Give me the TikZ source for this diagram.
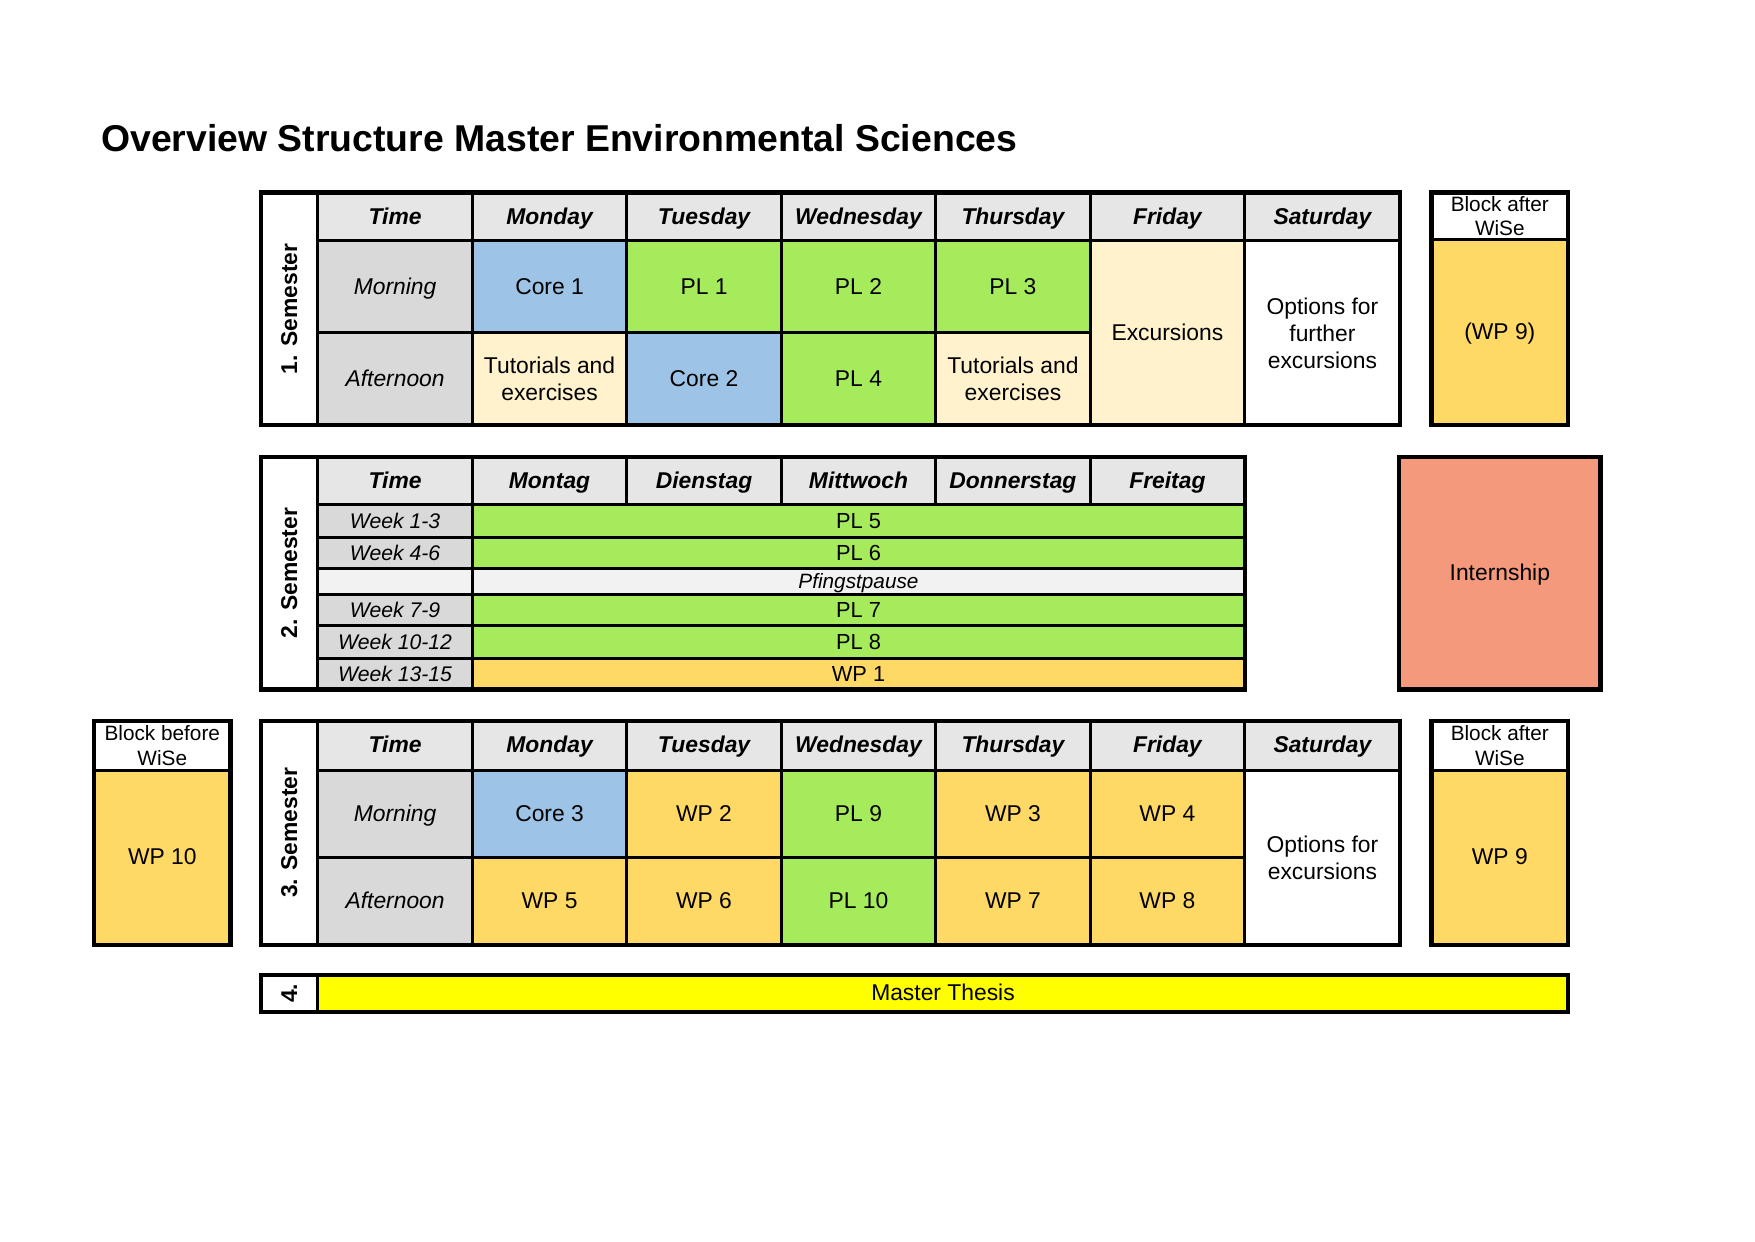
\documentclass[tikz,border=0pt]{standalone}
\usepackage{fontspec}
\setmainfont{Liberation Sans}
\usetikzlibrary{calc}
\definecolor{hdr}{HTML}{E7E6E6}
\definecolor{tcol}{HTML}{D9D9D9}
\definecolor{cblue}{HTML}{9DC3E6}
\definecolor{cgreen}{HTML}{A6EB5B}
\definecolor{cbeige}{HTML}{FFF2CC}
\definecolor{corange}{HTML}{FFD966}
\definecolor{csalmon}{HTML}{F4997B}
\definecolor{cyel}{HTML}{FFFF00}
\definecolor{cpfing}{HTML}{F2F2F2}
\newcommand\cellbox[7]{%
  \node[cellst,#6,minimum width={(#4-#2)*0.18941mm},minimum height={(#5-#3)*0.18941mm}]
    (#1) at ({(#2+#4)/2},{(#3+#5)/2}) {#7};}
\newcommand\outerbox[4]{\draw[outerst] (#1,#2) rectangle (#3,#4);}
\tikzset{
  cellst/.style={draw=black,line width=1.5pt,inner sep=0pt,align=center,
    font=\fontsize{11}{13}\selectfont,text height=0.72em,text depth=0pt},
  ml/.style={text height={},text depth={}},
  outerst/.style={draw=black,line width=2pt},
  hd/.style={fill=hdr,font=\fontsize{11}{13}\selectfont\bfseries\itshape},
  tc/.style={fill=tcol,font=\fontsize{11}{13}\selectfont\itshape},
  tw/.style={fill=tcol,font=\fontsize{10.2}{12}\selectfont\itshape},
  lab/.style={fill=white},
  semlab/.style={rotate=90,font=\fontsize{11}{13}\selectfont\bfseries},
  blu/.style={fill=cblue},
  grn/.style={fill=cgreen},
  bge/.style={fill=cbeige},
  org/.style={fill=corange},
  wht/.style={fill=white},
  sm/.style={font=\fontsize{10.5}{12}\selectfont},
  blk/.style={fill=white,ml,font=\fontsize{10}{11.8}\selectfont},
}
\begin{document}
\begin{tikzpicture}[x=0.18941mm,y=-0.18941mm]
\useasboundingbox (0,0) rectangle (1568,1109);
\node[anchor=west,inner sep=0pt,font=\fontsize{18}{21}\selectfont\bfseries] (title) at (90,123) {Overview Structure Master Environmental Sciences};

% ---------- Semester 1 ----------
\cellbox{s1l}{233}{172}{284}{380}{lab}{}
\node[semlab] (s1t) at (s1l.center) {1. Semester};
\cellbox{s1h0}{284}{172}{422}{215}{hd}{Time}
\cellbox{s1h1}{422}{172}{560}{215}{hd}{Monday}
\cellbox{s1h2}{560}{172}{698}{215}{hd}{Tuesday}
\cellbox{s1h3}{698}{172}{836}{215}{hd}{Wednesday}
\cellbox{s1h4}{836}{172}{974}{215}{hd}{Thursday}
\cellbox{s1h5}{974}{172}{1112}{215}{hd}{Friday}
\cellbox{s1h6}{1112}{172}{1251}{215}{hd}{Saturday}
\cellbox{s1m0}{284}{215}{422}{297}{tc}{Morning}
\cellbox{s1m1}{422}{215}{560}{297}{blu}{Core 1}
\cellbox{s1m2}{560}{215}{698}{297}{grn}{PL 1}
\cellbox{s1m3}{698}{215}{836}{297}{grn}{PL 2}
\cellbox{s1m4}{836}{215}{974}{297}{grn}{PL 3}
\cellbox{s1a0}{284}{297}{422}{380}{tc}{Afternoon}
\cellbox{s1a1}{422}{297}{560}{380}{bge,ml}{Tutorials and\\exercises}
\cellbox{s1a2}{560}{297}{698}{380}{blu}{Core 2}
\cellbox{s1a3}{698}{297}{836}{380}{grn}{PL 4}
\cellbox{s1a4}{836}{297}{974}{380}{bge,ml}{Tutorials and\\exercises}
\cellbox{s1f}{974}{215}{1112}{380}{bge}{Excursions}
\cellbox{s1s}{1112}{215}{1251}{380}{wht,ml}{Options for\\further\\excursions}
\outerbox{233}{172}{1251}{380}
% block after (sem 1)
\cellbox{b1h}{1279}{172}{1401}{214}{blk}{Block after\\WiSe}
\cellbox{b1b}{1279}{214}{1401}{380}{org}{(WP 9)}
\outerbox{1279}{172}{1401}{380}

% ---------- Semester 2 ----------
\cellbox{s2l}{233}{408}{284}{616}{lab}{}
\node[semlab] (s2t) at (s2l.center) {2. Semester};
\cellbox{s2h0}{284}{408}{422}{451}{hd}{Time}
\cellbox{s2h1}{422}{408}{560}{451}{hd}{Montag}
\cellbox{s2h2}{560}{408}{698}{451}{hd}{Dienstag}
\cellbox{s2h3}{698}{408}{836}{451}{hd}{Mittwoch}
\cellbox{s2h4}{836}{408}{974}{451}{hd}{Donnerstag}
\cellbox{s2h5}{974}{408}{1112}{451}{hd}{Freitag}
\cellbox{s2w1}{284}{451}{422}{480}{tw}{Week 1-3}
\cellbox{s2r1}{422}{451}{1112}{480}{grn,sm}{PL 5}
\cellbox{s2w2}{284}{480}{422}{508}{tw}{Week 4-6}
\cellbox{s2r2}{422}{480}{1112}{508}{grn,sm}{PL 6}
\cellbox{s2w3}{284}{508}{422}{531}{fill=cpfing}{}
\cellbox{s2r3}{422}{508}{1112}{531}{fill=cpfing,font=\fontsize{10}{11}\selectfont\itshape}{Pfingstpause}
\cellbox{s2w4}{284}{531}{422}{559}{tw}{Week 7-9}
\cellbox{s2r4}{422}{531}{1112}{559}{grn,sm}{PL 7}
\cellbox{s2w5}{284}{559}{422}{588}{tw}{Week 10-12}
\cellbox{s2r5}{422}{559}{1112}{588}{grn,sm}{PL 8}
\cellbox{s2w6}{284}{588}{422}{616}{tw}{Week 13-15}
\cellbox{s2r6}{422}{588}{1112}{616}{org,sm}{WP 1}
\outerbox{233}{408}{1112}{616}
\cellbox{intern}{1250}{408}{1430}{616}{fill=csalmon}{Internship}
\outerbox{1250}{408}{1430}{616}

% ---------- Semester 3 ----------
\cellbox{b3h}{84}{644}{206}{688}{blk}{Block before\\WiSe}
\cellbox{b3b}{84}{688}{206}{844}{org}{WP 10}
\outerbox{84}{644}{206}{844}
\cellbox{s3l}{233}{644}{284}{844}{lab}{}
\node[semlab] (s3t) at (s3l.center) {3. Semester};
\cellbox{s3h0}{284}{644}{422}{688}{hd}{Time}
\cellbox{s3h1}{422}{644}{560}{688}{hd}{Monday}
\cellbox{s3h2}{560}{644}{698}{688}{hd}{Tuesday}
\cellbox{s3h3}{698}{644}{836}{688}{hd}{Wednesday}
\cellbox{s3h4}{836}{644}{974}{688}{hd}{Thursday}
\cellbox{s3h5}{974}{644}{1112}{688}{hd}{Friday}
\cellbox{s3h6}{1112}{644}{1251}{688}{hd}{Saturday}
\cellbox{s3m0}{284}{688}{422}{766}{tc}{Morning}
\cellbox{s3m1}{422}{688}{560}{766}{blu}{Core 3}
\cellbox{s3m2}{560}{688}{698}{766}{org}{WP 2}
\cellbox{s3m3}{698}{688}{836}{766}{grn}{PL 9}
\cellbox{s3m4}{836}{688}{974}{766}{org}{WP 3}
\cellbox{s3m5}{974}{688}{1112}{766}{org}{WP 4}
\cellbox{s3a0}{284}{766}{422}{844}{tc}{Afternoon}
\cellbox{s3a1}{422}{766}{560}{844}{org}{WP 5}
\cellbox{s3a2}{560}{766}{698}{844}{org}{WP 6}
\cellbox{s3a3}{698}{766}{836}{844}{grn}{PL 10}
\cellbox{s3a4}{836}{766}{974}{844}{org}{WP 7}
\cellbox{s3a5}{974}{766}{1112}{844}{org}{WP 8}
\cellbox{s3s}{1112}{688}{1251}{844}{wht,ml}{Options for\\excursions}
\outerbox{233}{644}{1251}{844}
\cellbox{b3ah}{1279}{644}{1401}{688}{blk}{Block after\\WiSe}
\cellbox{b3ab}{1279}{688}{1401}{844}{org}{WP 9}
\outerbox{1279}{644}{1401}{844}

% ---------- Semester 4 ----------
\cellbox{s4l}{233}{871}{284}{904}{lab}{}
\node[semlab] (s4t) at (s4l.center) {4.};
\cellbox{s4r}{284}{871}{1401}{904}{fill=cyel}{Master Thesis}
\outerbox{233}{871}{1401}{904}
\end{tikzpicture}
\end{document}
